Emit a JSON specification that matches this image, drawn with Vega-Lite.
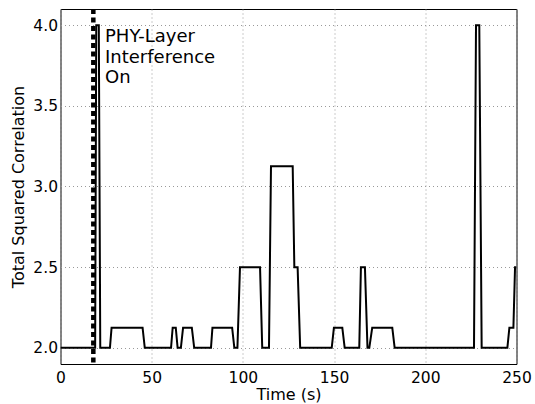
{
  "$schema": "https://vega.github.io/schema/vega-lite/v6.json",
  "width": 456,
  "height": 355,
  "autosize": {"type": "none"},
  "padding": {"left": 60.5, "top": 9, "right": 18.5, "bottom": 40},
  "background": "white",
  "config": {
    "view": {"stroke": "black", "strokeWidth": 1},
    "font": "DejaVu Sans",
    "axis": {
      "domain": false,
      "ticks": false,
      "grid": true,
      "gridColor": "#999999",
      "gridDash": [1, 3],
      "gridWidth": 1,
      "labelFont": "DejaVu Sans",
      "labelFontSize": 15.5,
      "labelColor": "black",
      "titleFont": "DejaVu Sans",
      "titleFontSize": 16,
      "titleFontWeight": "normal",
      "titleColor": "black"
    }
  },
  "datasets": {
    "series": [
      {"t": 0, "v": 2}, {"t": 19, "v": 2}, {"t": 19.6, "v": 4}, {"t": 21, "v": 4}, {"t": 21.8, "v": 2},
      {"t": 27.1, "v": 2}, {"t": 28, "v": 2.125}, {"t": 45, "v": 2.125}, {"t": 46.2, "v": 2},
      {"t": 60.6, "v": 2}, {"t": 61.5, "v": 2.125}, {"t": 63.2, "v": 2.125}, {"t": 64.2, "v": 2},
      {"t": 66, "v": 2}, {"t": 67.2, "v": 2.125}, {"t": 72, "v": 2.125}, {"t": 73.3, "v": 2},
      {"t": 82.5, "v": 2}, {"t": 83.3, "v": 2.125}, {"t": 94.1, "v": 2.125}, {"t": 95.3, "v": 2},
      {"t": 97, "v": 2}, {"t": 98.4, "v": 2.5}, {"t": 109.4, "v": 2.5}, {"t": 110.6, "v": 2},
      {"t": 114.3, "v": 2}, {"t": 115.4, "v": 3.125}, {"t": 127.3, "v": 3.125}, {"t": 128.2, "v": 2.5},
      {"t": 130, "v": 2.5}, {"t": 131.4, "v": 2}, {"t": 148.7, "v": 2}, {"t": 149.9, "v": 2.125},
      {"t": 154.5, "v": 2.125}, {"t": 155.8, "v": 2}, {"t": 163.8, "v": 2}, {"t": 164.7, "v": 2.5},
      {"t": 166.9, "v": 2.5}, {"t": 168.3, "v": 2}, {"t": 169.3, "v": 2}, {"t": 170.9, "v": 2.125},
      {"t": 181.9, "v": 2.125}, {"t": 183.2, "v": 2}, {"t": 226.7, "v": 2}, {"t": 227.8, "v": 4},
      {"t": 229.6, "v": 4}, {"t": 230.9, "v": 2}, {"t": 245, "v": 2}, {"t": 246.1, "v": 2.125},
      {"t": 248.3, "v": 2.125}, {"t": 249.2, "v": 2.5}, {"t": 250, "v": 2.5}
    ],
    "marker": [{"t": 18}],
    "note": [{"t": 24.4, "v": 3.98, "label": ["PHY-Layer", "Interference", "On"]}]
  },
  "layer": [
    {
      "data": {"name": "series"},
      "mark": {"type": "line", "color": "black", "strokeWidth": 2, "clip": true},
      "encoding": {
        "x": {
          "field": "t", "type": "quantitative",
          "scale": {"domain": [0, 250], "nice": false, "zero": false},
          "axis": {"values": [0, 50, 100, 150, 200, 250], "title": "Time (s)", "labelPadding": 6, "titlePadding": 1, "labelFlush": false}
        },
        "y": {
          "field": "v", "type": "quantitative",
          "scale": {"domain": [1.9, 4.1], "nice": false, "zero": false},
          "axis": {"values": [2, 2.5, 3, 3.5, 4], "format": ".1f", "title": "Total Squared Correlation", "labelPadding": 3, "titlePadding": 6}
        }
      }
    },
    {
      "data": {"name": "marker"},
      "mark": {"type": "rule", "color": "black", "strokeWidth": 4.5, "strokeDash": [5, 3.5]},
      "encoding": {
        "x": {"field": "t", "type": "quantitative"}
      }
    },
    {
      "data": {"name": "note"},
      "mark": {"type": "text", "align": "left", "baseline": "top", "fontSize": 18, "lineHeight": 20.5, "color": "black", "font": "DejaVu Sans"},
      "encoding": {
        "x": {"field": "t", "type": "quantitative"},
        "y": {"field": "v", "type": "quantitative"},
        "text": {"field": "label"}
      }
    }
  ]
}
